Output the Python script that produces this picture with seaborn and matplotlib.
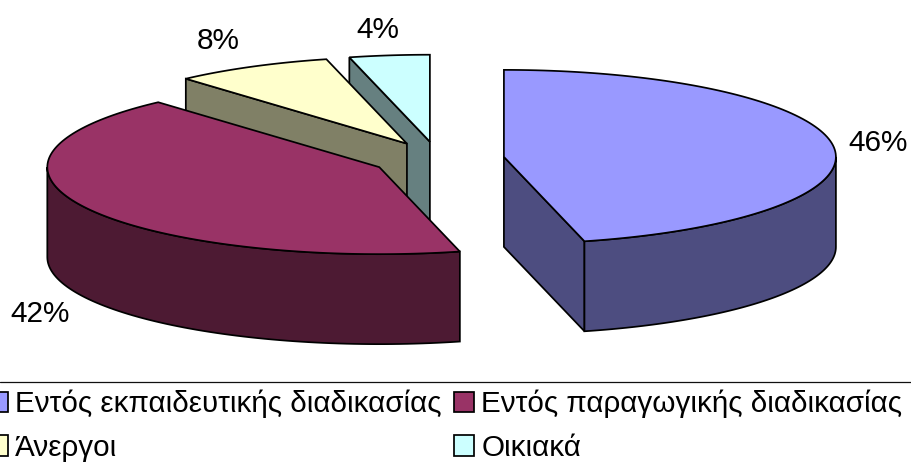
import numpy as np
import matplotlib
matplotlib.use("Agg")
import matplotlib.pyplot as plt
from matplotlib.patches import Patch
import seaborn as sns

categories = ["Εντός εκπαιδευτικής διαδικασίας", "Εντός παραγωγικής διαδικασίας", "Άνεργοι", "Οικιακά"]
shares = [46.1, 42.3, 7.7, 3.9]
labels = ["46%", "42%", "8%", "4%"]
label_xy = [(878, 143), (40, 314), (218, 41), (378, 30)]
top_colors = ["#9999FF", "#993366", "#FFFFCC", "#CCFFFF"]
side_colors = ["#4D4D80", "#4D1A33", "#808066", "#668080"]

sns.set_theme(style="white")
plt.rcParams["font.family"] = ["Liberation Sans", "DejaVu Sans"]

fig = plt.figure(figsize=(9.11, 4.62), dpi=100, facecolor="white")
ax = fig.add_axes([0, 0, 1, 1])
ax.set_xlim(0, 911)
ax.set_ylim(462, 0)
ax.axis("off")

CX, CY, RX, RY, DEPTH, EXPLODE = 438, 159, 332, 87, 90, 0.2
LW = 1.25
FS = 21.3


def rim(t, ox, oy, dy=0):
    return np.column_stack((ox + RX * np.sin(t), oy - RY * np.cos(t) + dy))


def face(points, color, z):
    ax.fill(points[:, 0], points[:, 1], facecolor=color, edgecolor="black",
            linewidth=LW, joinstyle="miter", zorder=z)


edges = np.radians(np.concatenate(([0], np.cumsum(shares))) * 3.6)
for i in [3, 2, 1, 0]:
    t0, t1 = edges[i], edges[i + 1]
    mid = (t0 + t1) / 2
    ox = CX + EXPLODE * RX * np.sin(mid)
    oy = CY - EXPLODE * RY * np.cos(mid)
    apex = np.array([[ox, oy]])
    z = 10 - i
    for t, visible in ((t0, np.sin(t0) < -1e-6), (t1, np.sin(t1) > 1e-6)):
        if visible:
            e = rim(np.array([t]), ox, oy)
            low = np.array([[0, DEPTH]])
            face(np.vstack((apex, e, e + low, apex + low)), side_colors[i], z)
    a, b = max(t0, np.pi / 2), min(t1, 3 * np.pi / 2)
    if b > a:
        ts = np.linspace(a, b, 80)
        face(np.vstack((rim(ts, ox, oy), rim(ts[::-1], ox, oy, DEPTH))), side_colors[i], z + 0.1)
    ts = np.linspace(t0, t1, 120)
    face(np.vstack((apex, rim(ts, ox, oy))), top_colors[i], z + 0.2)

for (x, y), s in zip(label_xy, labels):
    ax.text(x, y, s, fontsize=21.4, color="black", ha="center", va="center")

ax.plot([0, 911], [382, 382], color="#101010", linewidth=0.9)

handles = [Patch(facecolor=top_colors[i], edgecolor="black", linewidth=1.25, label=categories[i])
           for i in (0, 2, 1, 3)]
fig.legend(handles=handles, ncol=2, loc="lower left", bbox_to_anchor=(-12 / 911, 0.0),
           frameon=False, fontsize=FS, labelcolor="black", handlelength=0.68, handleheight=0.68,
           handletextpad=0.24, columnspacing=0.42, labelspacing=0.53,
           borderpad=0.0, borderaxespad=0.0)

fig.savefig("out.png", dpi=100)
